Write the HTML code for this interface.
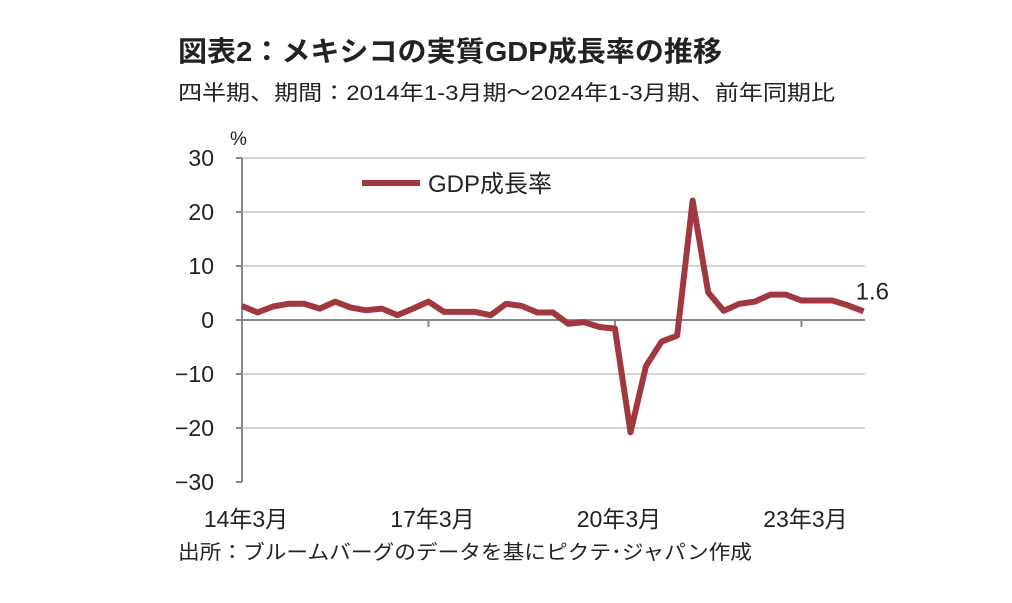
<!DOCTYPE html>
<html><head><meta charset="utf-8"><style>
body{margin:0;background:#fff;}
svg text{font-family:"Liberation Sans","Noto Sans CJK JP",sans-serif;fill:#222;}
</style></head><body>
<svg width="1012" height="598" viewBox="0 0 1012 598" xmlns="http://www.w3.org/2000/svg">
<text x="178" y="61" font-size="28" font-weight="bold" textLength="544" lengthAdjust="spacingAndGlyphs">図表2：メキシコの実質GDP成長率の推移</text>
<text x="178" y="100" font-size="21" textLength="657" lengthAdjust="spacingAndGlyphs">四半期、期間：2014年1-3月期～2024年1-3月期、前年同期比</text>
<text x="230" y="145" font-size="19">%</text>
<g id="grid"></g>
<g id="axes"></g>
<g id="series"></g>
<line x1="362" y1="183" x2="420" y2="183" stroke="#a0393f" stroke-width="6"/>
<text x="428" y="192" font-size="24">GDP成長率</text>
<text x="178" y="559" font-size="20" textLength="574" lengthAdjust="spacingAndGlyphs">出所：ブルームバーグのデータを基にピクテ･ジャパン作成</text>
</svg>
<script>
const yTicks=[30,20,10,0,-10,-20,-30];
const yTickLabels=["30","20","10","0","−10","−20","−30"];
const xTickIdx=[0,12,24,36];
const xTickLabels=["14年3月","17年3月","20年3月","23年3月"];
const gdp=[2.6,1.4,2.5,3.0,3.0,2.1,3.4,2.3,1.8,2.1,0.9,2.1,3.4,1.5,1.5,1.5,0.9,3.0,2.6,1.4,1.4,-0.7,-0.4,-1.3,-1.6,-20.8,-8.5,-4.0,-2.9,22.1,5.1,1.7,3.0,3.4,4.7,4.7,3.6,3.6,3.6,2.7,1.6];
const NS="http://www.w3.org/2000/svg";
const x0=242,x1=865,step=15.54;
const X=i=>x0+i*step;
const Y=v=>320-v*5.4;
function mk(tag,attrs,parent){const e=document.createElementNS(NS,tag);for(const k in attrs)e.setAttribute(k,attrs[k]);document.getElementById(parent).appendChild(e);return e;}
yTicks.forEach((v,i)=>{
  if(v!==0&&v!==-30){const g=mk('line',{x1:x0,x2:x1,y1:Y(v),y2:Y(v),stroke:'#d4d4d4','stroke-width':2},'grid');
  
  }
  const t=mk('line',{x1:x0-6,x2:x0,y1:Y(v),y2:Y(v),stroke:'#888','stroke-width':2},'axes');
  
  
  const l=mk('text',{x:214,y:Y(v)+8,'font-size':23,'text-anchor':'end'},'axes');
  l.textContent=yTickLabels[i];
  
  
});
const ya=mk('line',{x1:x0,x2:x0,y1:Y(30),y2:Y(-30),stroke:'#888','stroke-width':2},'axes');


const xa=mk('line',{x1:x0,x2:x1,y1:Y(0),y2:Y(0),stroke:'#888','stroke-width':2},'axes');


xTickIdx.forEach((idx,i)=>{
  const t=mk('line',{x1:X(idx),x2:X(idx),y1:Y(0),y2:Y(0)+7,stroke:'#888','stroke-width':2},'axes');
  
  
  const l=mk('text',{x:X(idx)+4,y:527,'font-size':23,'text-anchor':'middle'},'axes');
  l.textContent=xTickLabels[i];
  
  
});
const p=mk('polyline',{points:gdp.map((v,i)=>X(i)+','+Y(v)).join(' '),fill:'none',stroke:'#a0393f','stroke-width':6,'stroke-linejoin':'round'},'series');


const last=gdp.length-1;
const lb=mk('text',{x:X(last)-8,y:Y(gdp[last])-12,'font-size':24},'series');
lb.textContent=gdp[last].toFixed(1);


</script>
</body></html>
